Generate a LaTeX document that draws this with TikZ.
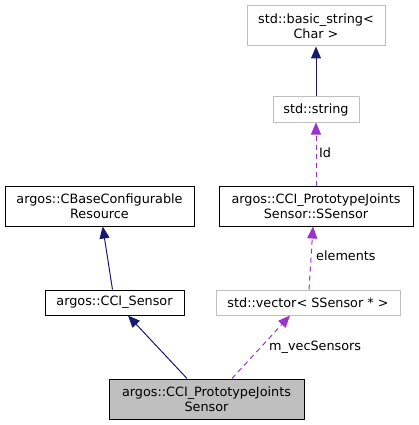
\documentclass[tikz,border=0pt]{standalone}
\usepackage{fontspec}
\setmainfont{DejaVu Sans}
\usepackage{tikz}
\usetikzlibrary{arrows.meta}
\definecolor{inhcol}{HTML}{191970}
\definecolor{usecol}{HTML}{9A32CD}
\definecolor{boxgray}{HTML}{BFBFBF}
\tikzset{
  cls/.style={draw=black, line width=1pt, inner sep=0pt, align=center,
    font=\fontsize{12.8}{15}\selectfont},
  ext/.style={cls, draw=boxgray},
  inh/.style={-{Triangle[length=12pt,width=10pt]}, color=inhcol, line width=1pt},
  use/.style={-{Triangle[length=12pt,width=10pt]}, color=usecol, line width=1pt,
    dash pattern=on 5pt off 4pt},
  lbl/.style={anchor=west, inner sep=0pt, font=\fontsize{12.8}{15}\selectfont}
}
\begin{document}
\begin{tikzpicture}[x=1pt, y=-1pt]
\useasboundingbox (0,0) rectangle (419,425);
%\tikzstyle{cls}=[draw,thick]
\begin{scope}
    \node[ext, minimum width=138pt, minimum height=40pt] (B) at (316,26) {std::basic\_string<\\Char >};
    \node[ext, minimum width=86pt, minimum height=25pt] (S) at (316,109.5) {std::string};
    \node[cls, minimum width=189pt, minimum height=40pt] (C) at (99.5,206) {argos::CBaseConfigurable\\Resource};
    \node[cls, minimum width=194pt, minimum height=40pt] (E) at (316,206) {argos::CCI\_PrototypeJoints\\Sensor::SSensor};
    \node[cls, minimum width=139pt, minimum height=25pt] (I) at (114.5,302.5) {argos::CCI\_Sensor};
    \node[ext, minimum width=184pt, minimum height=25pt] (V) at (308,302.5) {std::vector< SSensor * >};
    \node[cls, fill=boxgray, minimum width=195pt, minimum height=40pt] (P) at (206.5,399) {argos::CCI\_PrototypeJoints\\Sensor};
\end{scope}
\path (S) edge [inh] (B);
\path (I) edge [inh] (C);
\path ([xshift=-19.5pt]P.north) edge [inh] ([xshift=13.5pt]I.south);
\path (E) edge [use] (S);
\path ([xshift=1pt]V.north) edge [use] ([xshift=-3pt]E.south);
\path ([xshift=25.5pt]P.north) edge [use] ([xshift=-18pt]V.south);
\node[lbl] (id) at (319,153) {Id};
\node[lbl] (el) at (316,256) {elements};
\node[lbl] (mv) at (269,347) {m\_vecSensors};
\end{tikzpicture}
\end{document}
